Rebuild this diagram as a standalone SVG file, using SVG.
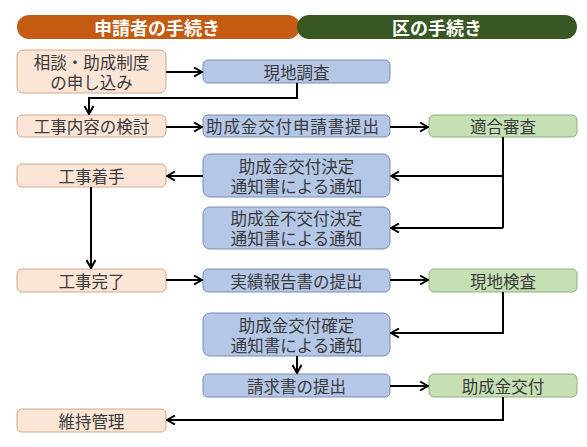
<svg xmlns="http://www.w3.org/2000/svg" width="587" height="447" viewBox="0 0 587 447">
<defs>
<marker id="ah" viewBox="0 0 10 10" refX="9" refY="5" markerWidth="10" markerHeight="10" markerUnits="userSpaceOnUse" orient="auto">
<polyline points="1,0.5 9,5 1,9.5" fill="none" stroke="#000" stroke-width="2"/>
</marker>
</defs>
<style>
text{font-family:"Noto Sans CJK JP","Noto Sans CJK SC",sans-serif;font-size:16.5px;fill:#3a3a3a;text-anchor:middle;dominant-baseline:central}
.hd{fill:#fff;font-size:18px;font-weight:bold}
.o{fill:#fbe5d6;stroke:#d4a886;stroke-width:1}
.b{fill:#b4c7e7;stroke:#7a8db0;stroke-width:1}
.g{fill:#c5e0b4;stroke:#8fae7d;stroke-width:1}
.c{fill:none;stroke:#000;stroke-width:2}
</style>
<rect width="587" height="447" fill="#fff"/>
<g id="header-applicant"><rect x="17" y="15" width="283" height="24" rx="12" fill="#c55a11"/><text class="hd" x="157" y="27">申請者の手続き</text></g>
<g id="header-ward"><rect x="297" y="15" width="280" height="24" rx="12" fill="#385723"/><text class="hd" x="437" y="27">区の手続き</text></g>

<g id="n1"><rect class="o" x="17" y="50" width="149" height="43" rx="6"/><text x="91.5" y="61.5">相談・助成制度<tspan x="91.5" dy="20">の申し込み</tspan></text></g>
<g id="n2"><rect class="b" x="203" y="60" width="187" height="23" rx="5"/><text x="296.5" y="71.5">現地調査</text></g>
<g id="n3"><rect class="o" x="17" y="115" width="149" height="22" rx="5"/><text x="91.5" y="126">工事内容の検討</text></g>
<g id="n4"><rect class="b" x="203" y="115" width="187" height="22" rx="5"/><text x="292.5" y="126" textLength="173" lengthAdjust="spacing">助成金交付申請書提出</text></g>
<g id="n5"><rect class="g" x="429" y="115" width="148" height="22" rx="5"/><text x="503" y="126">適合審査</text></g>
<g id="n6"><rect class="b" x="203" y="154" width="187" height="43" rx="7"/><text x="296.5" y="165.5">助成金交付決定<tspan x="296.5" dy="20">通知書による通知</tspan></text></g>
<g id="n7"><rect class="o" x="17" y="164" width="149" height="23" rx="5"/><text x="91.5" y="175.5">工事着手</text></g>
<g id="n8"><rect class="b" x="203" y="207" width="187" height="42" rx="7"/><text x="296.5" y="218">助成金不交付決定<tspan x="296.5" dy="20">通知書による通知</tspan></text></g>
<g id="n9"><rect class="o" x="17" y="269" width="149" height="23" rx="5"/><text x="91.5" y="280.5">工事完了</text></g>
<g id="n10"><rect class="b" x="203" y="269" width="187" height="23" rx="5"/><text x="296.5" y="280.5">実績報告書の提出</text></g>
<g id="n11"><rect class="g" x="429" y="269" width="148" height="23" rx="5"/><text x="503" y="280.5">現地検査</text></g>
<g id="n12"><rect class="b" x="203" y="313" width="187" height="43" rx="7"/><text x="296.5" y="324.5">助成金交付確定<tspan x="296.5" dy="20">通知書による通知</tspan></text></g>
<g id="n13"><rect class="b" x="203" y="374" width="187" height="23" rx="5"/><text x="296.5" y="385.5">請求書の提出</text></g>
<g id="n14"><rect class="g" x="429" y="374" width="148" height="23" rx="5"/><text x="503" y="385.5">助成金交付</text></g>
<g id="n15"><rect class="o" x="17" y="409" width="149" height="23" rx="5"/><text x="91.5" y="420.5">維持管理</text></g>

<g id="connectors">
<path class="c" d="M166,72 H202" marker-end="url(#ah)"/>
<path class="c" d="M297,83 V98 H89 V114" marker-end="url(#ah)"/>
<path class="c" d="M166,127 H202" marker-end="url(#ah)"/>
<path class="c" d="M390,127 H428" marker-end="url(#ah)"/>
<path class="c" d="M503,137 V228"/>
<path class="c" d="M503,176 H391" marker-end="url(#ah)"/>
<path class="c" d="M503,228 H391" marker-end="url(#ah)"/>
<path class="c" d="M203,176 H167" marker-end="url(#ah)"/>
<path class="c" d="M91,187 V268" marker-end="url(#ah)"/>
<path class="c" d="M166,280 H202" marker-end="url(#ah)"/>
<path class="c" d="M390,280 H428" marker-end="url(#ah)"/>
<path class="c" d="M503,292 V333 H391" marker-end="url(#ah)"/>
<path class="c" d="M297,356 V373" marker-end="url(#ah)"/>
<path class="c" d="M390,386 H428" marker-end="url(#ah)"/>
<path class="c" d="M503,397 V420 H167" marker-end="url(#ah)"/>
</g>
</svg>
